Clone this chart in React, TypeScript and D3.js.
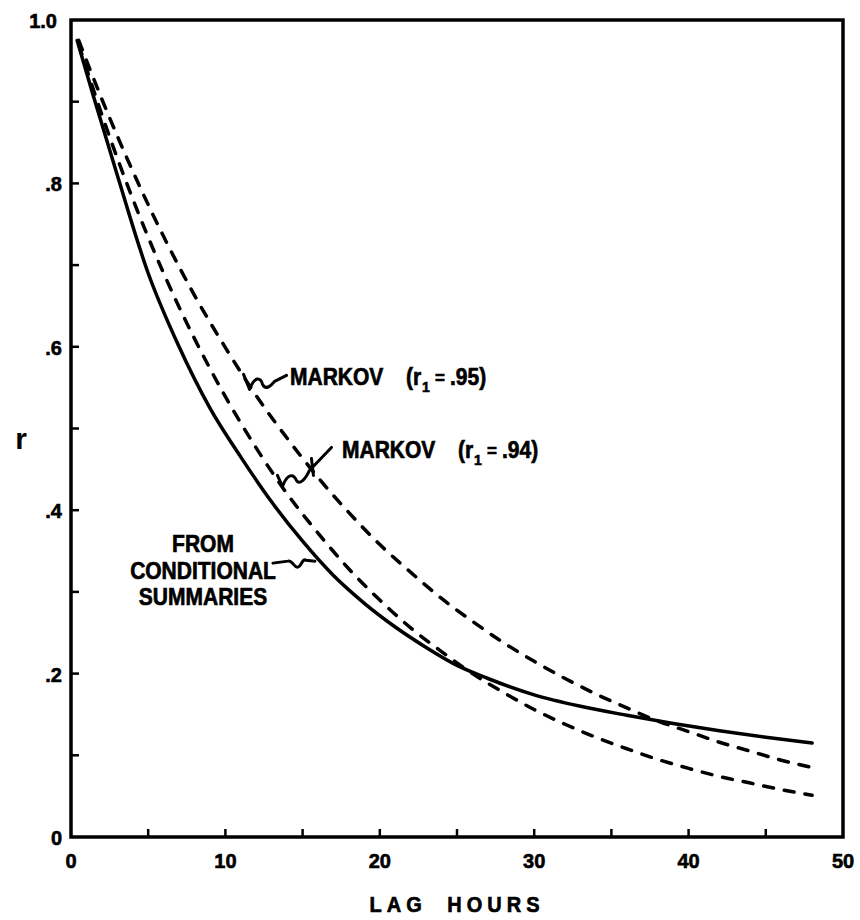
import React from "react";
import * as d3 from "d3";

const lagSolid = [0.4, 1.4, 3, 5, 7, 9, 11, 13, 15, 17, 19, 21, 23, 25, 27, 30, 33, 36, 39, 42, 45, 48];
const rSolid = [0.975, 0.91, 0.81, 0.69, 0.6, 0.525, 0.465, 0.41, 0.362, 0.32, 0.286, 0.257, 0.232, 0.21, 0.194, 0.174, 0.16, 0.149, 0.139, 0.13, 0.122, 0.115];

const lagMarkov = [0.5, 2, 4, 6, 8, 10, 12, 14, 16, 18, 20, 22, 24, 26, 28, 30, 32, 34, 36, 38, 40, 42, 44, 46, 48];
const rMarkov95 = [0.975, 0.903, 0.815, 0.735, 0.663, 0.599, 0.54, 0.488, 0.44, 0.397, 0.358, 0.324, 0.292, 0.264, 0.238, 0.215, 0.194, 0.175, 0.158, 0.142, 0.129, 0.116, 0.105, 0.094, 0.085];
const rMarkov94 = [0.97, 0.884, 0.781, 0.69, 0.61, 0.539, 0.476, 0.42, 0.372, 0.328, 0.29, 0.256, 0.227, 0.2, 0.177, 0.156, 0.138, 0.122, 0.108, 0.095, 0.084, 0.074, 0.066, 0.058, 0.051];

const xTickLabels = [0, 10, 20, 30, 40, 50];
const xMinorTicks = [5, 10, 15, 20, 25, 30, 35, 40, 45];
const yTickLabels = [0, 0.2, 0.4, 0.6, 0.8, 1.0];
const yTickText = ["0", ".2", ".4", ".6", ".8", "1.0"];
const yMinorTicks = [0.1, 0.2, 0.3, 0.4, 0.5, 0.6, 0.7, 0.8, 0.9];

const markovLabels = ["MARKOV", "(r", "1", "=", ".95)"];
const markovLabels94 = ["MARKOV", "(r", "1", "=", ".94)"];
const summaryLines = ["FROM", "CONDITIONAL", "SUMMARIES"];

const FONT = "'Liberation Sans', Arial, sans-serif";

export default function App() {
  const W = 860, H = 920;
  const x = d3.scaleLinear().domain([0, 50]).range([71, 843]);
  const y = d3.scaleLinear().domain([0, 1]).range([837, 20]);

  const line = d3
    .line<[number, number]>()
    .x((d) => x(d[0]))
    .y((d) => y(d[1]))
    .curve(d3.curveMonotoneX);

  const solidPath = line(lagSolid.map((l, i) => [l, rSolid[i]]))!;
  const m95Path = line(lagMarkov.map((l, i) => [l, rMarkov95[i]]))!;
  const m94Path = line(lagMarkov.map((l, i) => [l, rMarkov94[i]]))!;

  const a95 = [x(11.5), y(0.554)];
  const a94 = [x(13.5), y(0.434)];
  const aSol = [x(15.8), y(0.345)];

  const leader95 = `M ${a95[0] - 5} ${a95[1] - 10} L ${a95[0] + 1} ${a95[1] + 5} C ${a95[0] + 6} ${a95[1] - 8}, ${a95[0] + 12} ${a95[1] - 8}, ${a95[0] + 14} ${a95[1]} C ${a95[0] + 17} ${a95[1] + 6}, ${a95[0] + 22} ${a95[1] + 2}, ${a95[0] + 26} ${a95[1] - 3} L ${a95[0] + 38} ${a95[1] - 9}`;
  const leader94 = `M ${a94[0] - 2} ${a94[1] - 7} L ${a94[0] + 3} ${a94[1] + 4} C ${a94[0] + 8} ${a94[1] - 9}, ${a94[0] + 14} ${a94[1] - 9}, ${a94[0] + 17} ${a94[1] - 2} C ${a94[0] + 20} ${a94[1] + 3}, ${a94[0] + 26} ${a94[1] - 3}, ${a94[0] + 30} ${a94[1] - 12} L ${a94[0] + 52} ${a94[1] - 35} M ${a94[0] + 32} ${a94[1] - 24} L ${a94[0] + 34} ${a94[1] - 7}`;
  const leaderSol = `M ${aSol[0] - 42} ${aSol[1] + 8} L ${aSol[0] - 27} ${aSol[1] + 6} C ${aSol[0] - 22} ${aSol[1] + 5}, ${aSol[0] - 21} ${aSol[1] + 13}, ${aSol[0] - 17} ${aSol[1] + 12} C ${aSol[0] - 13} ${aSol[1] + 11}, ${aSol[0] - 13} ${aSol[1] + 3}, ${aSol[0] - 9} ${aSol[1] + 5} L ${aSol[0]} ${aSol[1] + 6}`;

  const heavy = { fontFamily: FONT, fontWeight: 700, fill: "#000", stroke: "#000", strokeWidth: 0.6 } as const;
  const inPlot = { ...heavy, fontSize: 21 } as const;
  const offs = [0, 116, 132, 145, 160];
  const sizes = [21, 21, 14, 17, 21];
  const stretch = "scale(1,1.1)";

  const markov = (labels: string[], sx: number, sy: number) => (
    <g transform={`translate(${sx},${sy}) ${stretch}`}>
      <text {...inPlot}>
        {labels.map((s, i) => (
          <tspan key={i} x={offs[i]} y={i === 2 ? 6 : i === 3 ? -1 : 0} fontSize={sizes[i]}>
            {s}
          </tspan>
        ))}
      </text>
    </g>
  );

  return (
    <svg width={W} height={H} style={{ position: "absolute", left: 0, top: 0, background: "#fff" }}>
      <rect width={W} height={H} fill="#fff" />
      <rect x={x(0)} y={y(1)} width={x(50) - x(0)} height={y(0) - y(1)} fill="none" stroke="#000" strokeWidth={3.5} />
      {xMinorTicks.map((t) => (
        <line key={"xt" + t} x1={x(t)} x2={x(t)} y1={y(0)} y2={y(0) - 8} stroke="#000" strokeWidth={2.5} />
      ))}
      {yMinorTicks.map((t) => (
        <line key={"yt" + t} x1={x(0)} x2={x(0) + 8} y1={y(t)} y2={y(t)} stroke="#000" strokeWidth={2.5} />
      ))}
      {xTickLabels.map((t) => (
        <text key={"xl" + t} x={x(t)} y={868} textAnchor="middle" fontSize={20} {...heavy}>
          {t}
        </text>
      ))}
      {yTickLabels.map((t, i) => (
        <text key={"yl" + t} x={t === 1 ? 57 : 62} y={y(t) + 8} textAnchor="end" fontSize={20} {...heavy}>
          {yTickText[i]}
        </text>
      ))}
      <g transform={`translate(457,912) ${stretch}`}>
        <text textAnchor="middle" fontSize={20} letterSpacing={5} wordSpacing={10} {...heavy}>
          LAG HOURS
        </text>
      </g>
      <text x={21} y={449} textAnchor="middle" fontFamily={FONT} fontWeight={700} fontSize={30}>
        r
      </text>
      <path d={m95Path} fill="none" stroke="#000" strokeWidth={3.5} strokeDasharray="10 11" strokeLinecap="round" />
      <path d={m94Path} fill="none" stroke="#000" strokeWidth={3.5} strokeDasharray="10 11" strokeLinecap="round" />
      <path d={solidPath} fill="none" stroke="#000" strokeWidth={3.5} strokeLinecap="round" />
      <path d={leader95} fill="none" stroke="#000" strokeWidth={3} strokeLinecap="round" strokeLinejoin="round" />
      <path d={leader94} fill="none" stroke="#000" strokeWidth={3} strokeLinecap="round" strokeLinejoin="round" />
      <path d={leaderSol} fill="none" stroke="#000" strokeWidth={3} strokeLinecap="round" strokeLinejoin="round" />
      {markov(markovLabels, 290, 385)}
      {markov(markovLabels94, 342, 458)}
      {summaryLines.map((s, i) => (
        <g key={s} transform={`translate(203,${552 + i * 26.5}) ${stretch}`}>
          <text textAnchor="middle" {...inPlot}>
            {s}
          </text>
        </g>
      ))}
    </svg>
  );
}
